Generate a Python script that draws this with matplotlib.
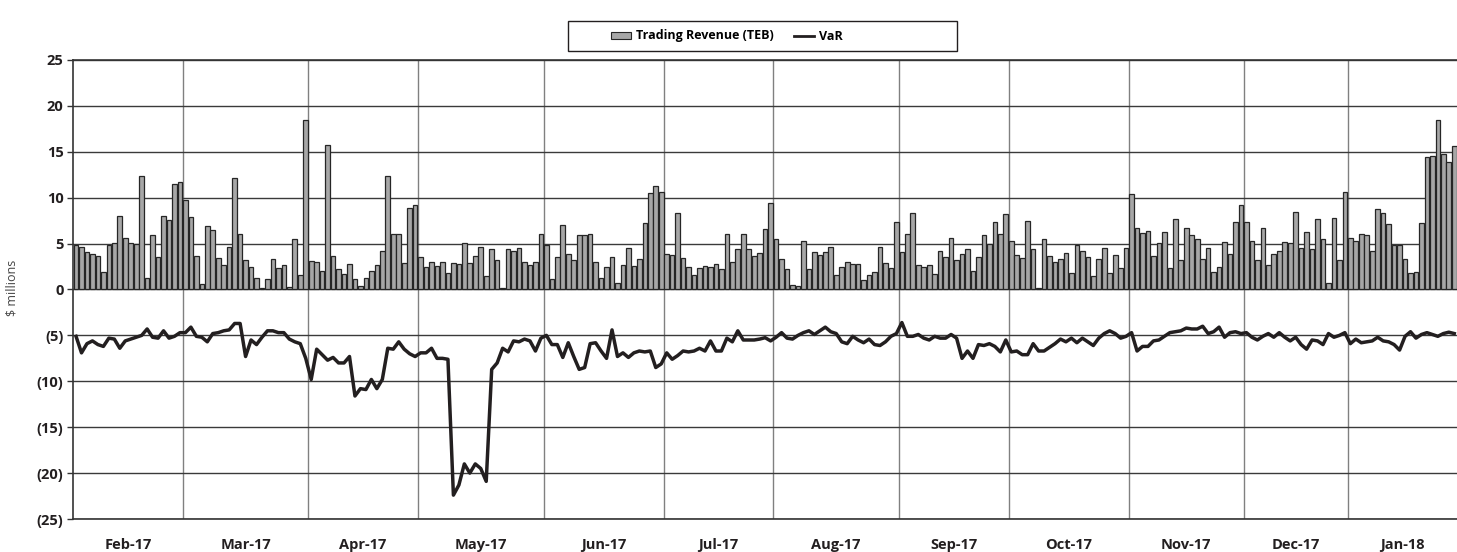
import numpy as np
import matplotlib
matplotlib.use("Agg")
import matplotlib.pyplot as plt
from matplotlib.patches import Patch, Rectangle
from matplotlib.lines import Line2D
from matplotlib.ticker import FuncFormatter

plt.rcParams['font.family'] = ['Open Sans', 'DejaVu Sans']

# month labels and daily values ($ millions)
months = ['Feb-17', 'Mar-17', 'Apr-17', 'May-17', 'Jun-17', 'Jul-17',
          'Aug-17', 'Sep-17', 'Oct-17', 'Nov-17', 'Dec-17', 'Jan-18']

rev_feb = [4.8, 4.6, 4.1, 3.9, 3.6, 1.9, 4.9, 5.1, 8.0, 5.6, 5.1, 5.0, 12.4, 1.3, 5.9, 3.5, 8.0, 7.6, 11.5, 11.7]
rev_mar = [9.8, 7.9, 3.7, 0.6, 6.9, 6.5, 3.4, 2.7, 4.6, 12.1, 6.0, 3.2, 2.4, 1.3, 0.2, 1.1, 3.3, 2.3, 2.7, 0.3, 5.5, 1.6, 18.5]
rev_apr = [3.1, 3.0, 2.05, 15.7, 3.6, 2.2, 1.7, 2.8, 1.1, 0.4, 1.3, 2.05, 2.7, 4.2, 12.4, 6.0, 6.0, 2.9, 8.9, 9.2]
rev_may = [3.5, 2.4, 3.0, 2.6, 3.0, 1.8, 2.9, 2.8, 5.1, 2.9, 3.7, 4.6, 1.5, 4.4, 3.2, 0.2, 4.4, 4.2, 4.5, 3.0, 2.7, 3.0, 6.1]
rev_jun = [4.9, 1.1, 3.5, 7.0, 3.9, 3.2, 5.9, 5.9, 6.1, 3.0, 1.2, 2.4, 3.5, 0.7, 2.7, 4.5, 2.6, 3.3, 7.2, 10.5, 11.3, 10.6]
rev_jul = [3.9, 3.8, 8.3, 3.4, 2.4, 1.6, 2.3, 2.6, 2.4, 2.8, 2.2, 6.0, 3.0, 4.4, 6.0, 4.4, 3.7, 4.0, 6.6, 9.4]
rev_aug = [5.5, 3.3, 2.2, 0.5, 0.4, 5.3, 2.2, 4.1, 3.8, 4.1, 4.6, 1.6, 2.4, 3.0, 2.8, 2.8, 1.0, 1.6, 1.9, 4.6, 2.9, 2.3, 7.4]
rev_sep = [4.1, 6.0, 8.3, 2.7, 2.4, 2.7, 1.7, 4.2, 3.5, 5.6, 3.2, 3.9, 4.4, 2.05, 3.5, 5.9, 5.0, 7.4, 6.0, 8.2]
rev_oct = [5.3, 3.8, 3.4, 7.5, 4.4, 0.2, 5.5, 3.7, 3.0, 3.3, 4.0, 1.8, 4.9, 4.2, 3.5, 1.5, 3.3, 4.5, 1.8, 3.8, 2.3, 4.5]
rev_nov = [10.4, 6.7, 6.2, 6.4, 3.7, 5.1, 6.3, 2.3, 7.7, 3.2, 6.7, 5.9, 5.5, 3.3, 4.5, 1.9, 2.4, 5.2, 3.9, 7.3, 9.2]
rev_dec = [7.4, 5.3, 3.2, 6.7, 2.7, 3.9, 4.2, 5.2, 5.1, 8.4, 4.5, 6.3, 4.4, 7.7, 5.5, 0.7, 7.8, 3.2, 10.6]
rev_jan = [5.6, 5.3, 6.1, 5.9, 4.2, 8.75, 8.3, 7.1, 4.8, 4.9, 3.3, 1.8, 1.9, 7.2, 14.4, 14.5, 18.5, 14.8, 13.9, 15.6]

var_feb = [-5.1, -6.9, -5.9, -5.6, -6.0, -6.2, -5.3, -5.4, -6.4, -5.6, -5.4, -5.2, -5.0, -4.3, -5.2, -5.3, -4.5, -5.3, -5.1, -4.7]
var_mar = [-4.7, -4.1, -5.1, -5.2, -5.7, -4.8, -4.7, -4.5, -4.4, -3.7, -3.7, -7.3, -5.5, -6.0, -5.2, -4.5, -4.5, -4.7, -4.7, -5.4, -5.7, -5.9, -7.5]
var_apr = [-9.8, -6.5, -7.1, -7.7, -7.4, -8.0, -8.0, -7.3, -11.6, -10.8, -10.9, -9.8, -10.8, -9.8, -6.4, -6.5, -5.7, -6.5, -7.0, -7.3]
var_may = [-6.9, -6.9, -6.4, -7.5, -7.5, -7.6, -22.4, -21.3, -19.0, -20.0, -19.0, -19.5, -20.9, -8.7, -8.0, -6.4, -6.8, -5.6, -5.7, -5.4, -5.6, -6.7, -5.3]
var_jun = [-5.0, -6.0, -6.0, -7.4, -5.8, -7.3, -8.7, -8.5, -5.9, -5.8, -6.7, -7.5, -4.4, -7.3, -6.9, -7.4, -6.9, -6.7, -6.8, -6.7, -8.5, -8.1]
var_jul = [-6.9, -7.6, -7.2, -6.7, -6.8, -6.7, -6.4, -6.7, -5.6, -6.7, -6.7, -5.3, -5.7, -4.5, -5.5, -5.5, -5.5, -5.4, -5.25, -5.6]
var_aug = [-5.2, -4.7, -5.3, -5.4, -5.0, -4.7, -4.5, -4.9, -4.5, -4.1, -4.6, -4.8, -5.7, -5.9, -5.1, -5.5, -5.8, -5.4, -6.0, -6.1, -5.7, -5.1, -4.8]
var_sep = [-3.6, -5.1, -5.1, -4.9, -5.3, -5.5, -5.1, -5.3, -5.3, -4.9, -5.3, -7.5, -6.7, -7.5, -6.0, -6.1, -5.9, -6.2, -6.8, -5.5]
var_oct = [-6.8, -6.7, -7.1, -7.1, -5.9, -6.7, -6.7, -6.3, -5.9, -5.4, -5.7, -5.3, -5.8, -5.3, -5.7, -6.1, -5.3, -4.8, -4.5, -4.8, -5.3, -5.1]
var_nov = [-4.7, -6.7, -6.2, -6.2, -5.6, -5.5, -5.1, -4.7, -4.6, -4.5, -4.2, -4.3, -4.3, -4.0, -4.8, -4.6, -4.1, -5.2, -4.7, -4.6, -4.8]
var_dec = [-4.7, -5.2, -5.5, -5.1, -4.8, -5.2, -4.7, -5.2, -5.6, -5.2, -6.0, -6.5, -5.5, -5.6, -6.0, -4.8, -5.2, -5.0, -4.7]
var_jan = [-5.9, -5.4, -5.8, -5.7, -5.6, -5.2, -5.6, -5.7, -6.0, -6.6, -5.1, -4.6, -5.3, -4.9, -4.7, -4.9, -5.1, -4.8, -4.65, -4.8]

rev_months = [rev_feb, rev_mar, rev_apr, rev_may, rev_jun, rev_jul, rev_aug, rev_sep, rev_oct, rev_nov, rev_dec, rev_jan]
var_months = [var_feb, var_mar, var_apr, var_may, var_jun, var_jul, var_aug, var_sep, var_oct, var_nov, var_dec, var_jan]

revenue = np.concatenate(rev_months)
var = np.concatenate(var_months)
x = np.arange(len(revenue))

# month boundaries in bar units
counts = np.array([len(m) for m in rev_months])
ends = np.cumsum(counts)
starts = ends - counts
bounds = ends[:-1] - 0.5
centers = (starts + ends) / 2.0 - 0.5

fig = plt.figure(figsize=(14.57, 5.52), dpi=100)
ax = fig.add_axes([73.3 / 1457, 1 - 519 / 552, (1457 - 73.3) / 1457, (519 - 60) / 552])

ax.bar(x, revenue, width=0.85, color='#a7a7a7', edgecolor='#262626', linewidth=0.9, zorder=2)
ax.plot(x, var, color='#231f20', lw=2.5, zorder=3)

ax.set_xlim(-0.5, len(revenue) - 0.5)
ax.set_ylim(-25, 25)
ax.set_yticks(np.arange(-25, 26, 5))
ax.yaxis.set_major_formatter(FuncFormatter(lambda v, p: '(%d)' % abs(v) if v < 0 else '%d' % v))
ax.set_xticks(centers)
ax.set_xticklabels(months)
ax.set_xticks(bounds, minor=True)

ax.grid(axis='y', which='major', color='#3a3a3a', lw=1.0, zorder=1)
ax.grid(axis='x', which='minor', color='#808080', lw=1.0, zorder=1)
ax.grid(axis='x', which='major', visible=False)

ax.tick_params(axis='x', which='both', length=0, pad=14, labelsize=10.5)
ax.tick_params(axis='y', length=4, width=1, color='#333333', labelsize=10.5, pad=3)
for lab in ax.get_xticklabels() + ax.get_yticklabels():
    lab.set_fontweight('bold')
    lab.set_color('#231f20')

for s in ['left', 'top', 'bottom']:
    ax.spines[s].set_color('#333333')
    ax.spines[s].set_linewidth(1.2)
ax.spines['right'].set_visible(False)

fig.text(12 / 1457, 1 - 288 / 552, '$ millions', rotation=90, ha='center', va='center',
         fontsize=9, color='#444444')

# legend with square box
fig.patches.append(Rectangle((568 / 1457, 1 - 51 / 552), 389 / 1457, 30 / 552,
                             transform=fig.transFigure, fill=False, edgecolor='#231f20', lw=1.0))
handles = [Patch(facecolor='#a7a7a7', edgecolor='#262626', linewidth=0.8),
           Line2D([0], [0], color='#231f20', lw=2)]
fig.legend(handles, ['Trading Revenue (TEB)', 'VaR'], ncol=2, frameon=False,
           loc='center', bbox_to_anchor=(727 / 1457, 1 - 36 / 552),
           prop={'weight': 'bold', 'size': 9}, handlelength=1.6, handleheight=0.5,
           columnspacing=1.6, handletextpad=0.4)

fig.savefig('out.png', dpi=100)
